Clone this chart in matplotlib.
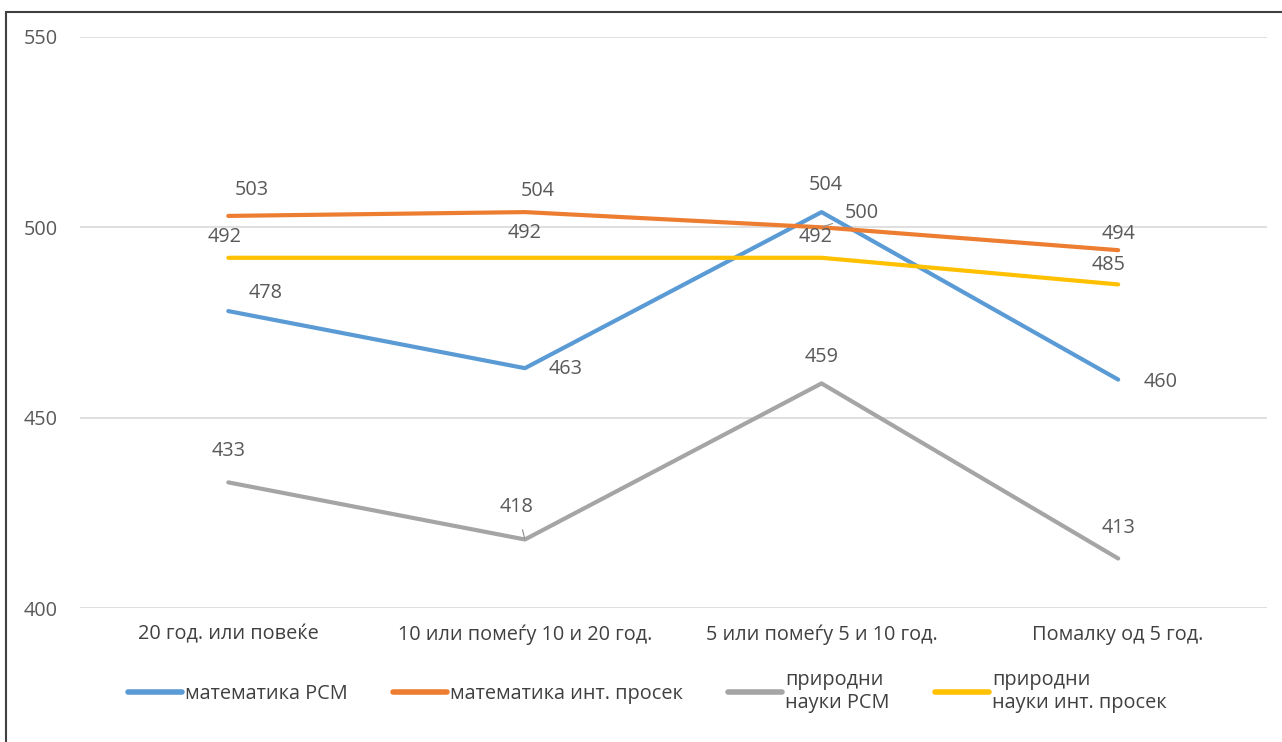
import matplotlib.pyplot as plt
from matplotlib.patches import Rectangle

plt.rcParams['font.family'] = ['Open Sans', 'DejaVu Sans']

# ============== data ==============
categories = ['20 год. или повеќе', '10 или помеѓу 10 и 20 год.',
              '5 или помеѓу 5 и 10 год.', 'Помалку од 5 год.']
seriesNames = ['математика РСМ', 'математика инт. просек',
               'природни\nнауки РСМ', 'природни\nнауки инт. просек']
mathRSM = [478, 463, 504, 460]
mathIntl = [503, 504, 500, 494]
sciRSM = [433, 418, 459, 413]
sciIntl = [492, 492, 492, 485]
yTicks = [400, 450, 500, 550]
# ===================================

colors = ['#5B9BD5', '#ED7D31', '#A5A5A5', '#FFC000']
allSeries = [mathRSM, mathIntl, sciRSM, sciIntl]

# label offsets in pixels (dx, dy) relative to each point
labelOffsets = [
    [(37, 18), (41, -1), (4, 27), (42, -2)],
    [(23, 26), (13, 21), (40, 14), (0, 16)],
    [(0, 31), (-8, 32), (0, 26), (0, 31)],
    [(-4, 21), (0, 25), (-6, 21), (-10, 19)],
]
leaders = {(1, 2), (2, 1)}
fs = 14.3

fig = plt.figure(figsize=(12.82, 7.42), dpi=100)
ax = fig.add_axes([80 / 1282, 1 - 608 / 742, (1266.5 - 80) / 1282, (608 - 37) / 742])

x = list(range(len(categories)))
for i, (vals, col, name) in enumerate(zip(allSeries, colors, seriesNames)):
    ax.plot(x, vals, color=col, lw=3, label=name, solid_capstyle='round')
    for j, v in enumerate(vals):
        dx, dy = labelOffsets[i][j]
        arrow = None
        if (i, j) in leaders:
            arrow = dict(arrowstyle='-', color='#8c8c8c', lw=0.8, shrinkA=7, shrinkB=1)
        ax.annotate(str(v), xy=(j, v), xytext=(dx, dy), textcoords='offset pixels',
                    ha='center', va='center', fontsize=fs, color='#595959',
                    arrowprops=arrow)

ax.set_xlim(-0.5, 3.5)
ax.set_ylim(400, 550)
ax.set_yticks(yTicks)
ax.set_xticks(x)
ax.set_xticklabels(categories, fontsize=fs, color='#404040')
ax.tick_params(axis='y', labelsize=fs, labelcolor='#595959', length=0, pad=16)
ax.tick_params(axis='x', length=0, pad=12)
ax.grid(axis='y', color='#d9d9d9', lw=1.2)
ax.set_axisbelow(True)
for s in ax.spines.values():
    s.set_visible(False)

leg = ax.legend(loc='upper left', bbox_to_anchor=(0.025, -0.078), ncol=4, frameon=False,
                fontsize=fs, handlelength=2.75, handletextpad=0.15, columnspacing=2.25,
                labelcolor='#404040')
for h in leg.get_lines():
    h.set_linewidth(4)
for t in leg.get_texts():
    t.set_linespacing(1.15)

# outer frame
fig.patches.append(Rectangle((6 / 1282, -0.1), 1.2, 1 - 12 / 742 + 0.1, transform=fig.transFigure,
                             fill=False, edgecolor='#404040', lw=1.5))

plt.savefig('out.png', dpi=100)
